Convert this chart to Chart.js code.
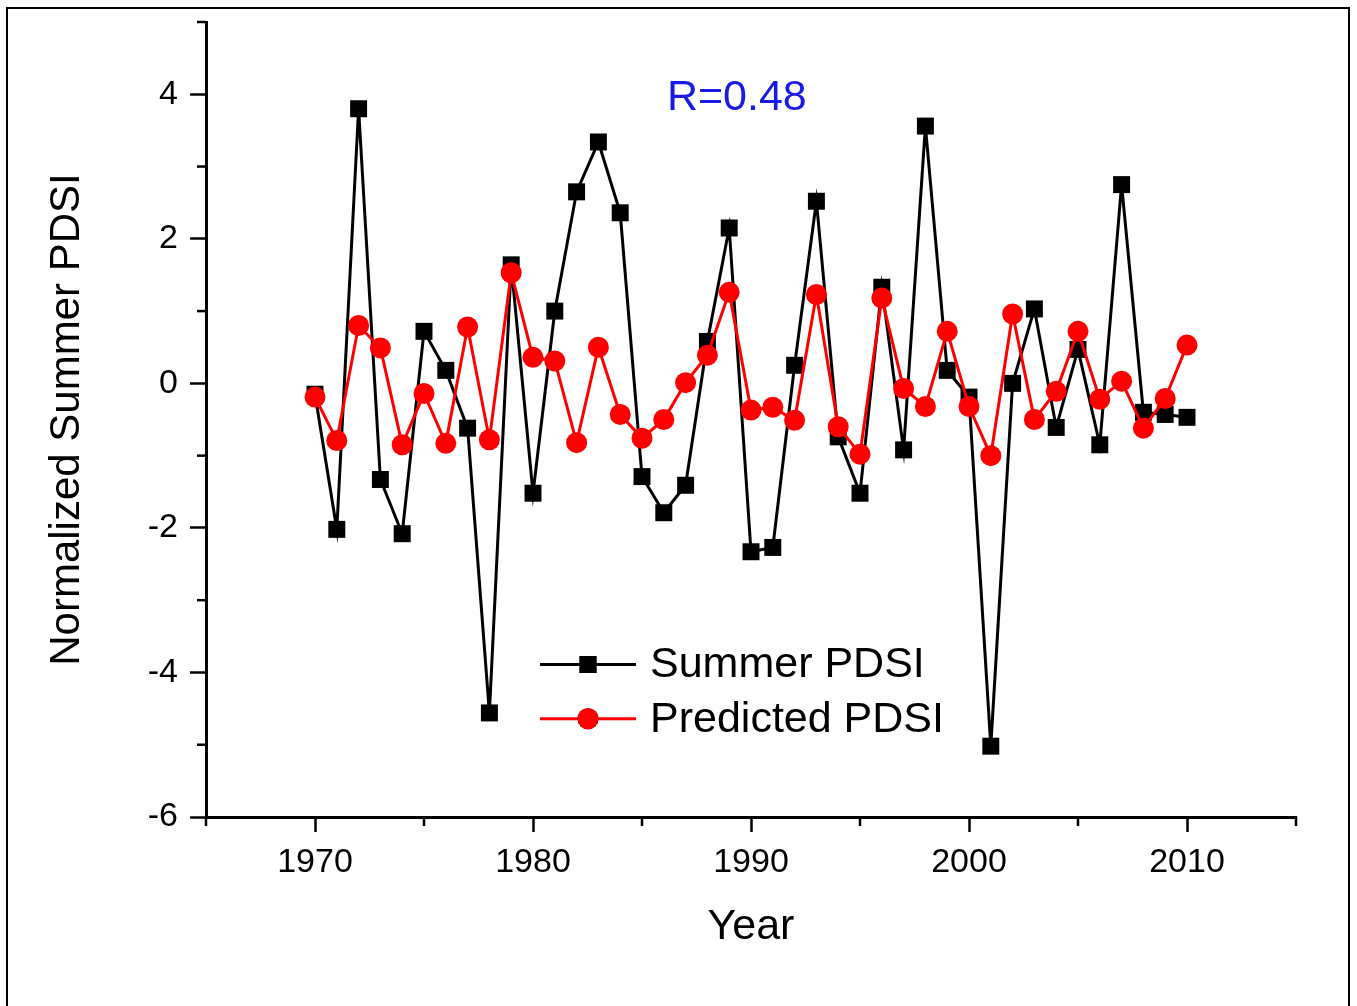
<!DOCTYPE html>
<html>
<head>
<meta charset="utf-8">
<script src="https://cdn.jsdelivr.net/npm/chart.js@4.4.0/dist/chart.umd.min.js"></script>
<style>
  html, body { margin: 0; padding: 0; background: #fff; }
  #wrap { position: relative; width: 1357px; height: 1006px; overflow: hidden; }
  #frame { position: absolute; left: 6px; top: 7px; width: 1344px; height: 1010px; border: 2px solid #000; box-sizing: border-box; pointer-events: none; }
  canvas { position: absolute; left: 0; top: 0; }
</style>
</head>
<body>
<div id="wrap">
  <canvas id="chart" width="1357" height="1006"></canvas>
  <div id="frame"></div>
</div>
<script>
const years = [1970, 1971, 1972, 1973, 1974, 1975, 1976, 1977, 1978, 1979,
               1980, 1981, 1982, 1983, 1984, 1985, 1986, 1987, 1988, 1989,
               1990, 1991, 1992, 1993, 1994, 1995, 1996, 1997, 1998, 1999,
               2000, 2001, 2002, 2003, 2004, 2005, 2006, 2007, 2008, 2009, 2010];

const summerPdsi = [-0.15, -2.02, 3.80, -1.33, -2.08, 0.72, 0.18, -0.62, -4.56, 1.64,
                    -1.52, 1.00, 2.65, 3.34, 2.36, -1.29, -1.79, -1.41, 0.58, 2.15,
                    -2.33, -2.27, 0.25, 2.52, -0.74, -1.52, 1.33, -0.92, 3.56, 0.18,
                    -0.19, -5.02, 0.00, 1.03, -0.61, 0.47, -0.85, 2.75, -0.40, -0.43, -0.47];

const predictedPdsi = [-0.19, -0.79, 0.80, 0.49, -0.85, -0.14, -0.83, 0.78, -0.78, 1.53,
                       0.36, 0.31, -0.82, 0.50, -0.43, -0.76, -0.50, 0.01, 0.39, 1.26,
                       -0.37, -0.33, -0.51, 1.23, -0.60, -0.98, 1.18, -0.07, -0.32, 0.72,
                       -0.32, -1.00, 0.96, -0.50, -0.11, 0.72, -0.22, 0.03, -0.62, -0.21, 0.53];

const xTickLabels = [1970, 1980, 1990, 2000, 2010];
const yTickLabels = [-6, -4, -2, 0, 2, 4];
const seriesNames = ["Summer PDSI", "Predicted PDSI"];
const correlationText = "R=0.48";

const FONT = "'Liberation Sans', Arial, Helvetica, sans-serif";

function toPoints(xs, ys) {
    return xs.map((x, i) => ({ x: x, y: ys[i] }));
}

// minor ticks, legend and the R label
const extras = {
    id: "extras",
    afterDraw(chart) {
        const { ctx, chartArea, scales: { x, y } } = chart;
        ctx.save();
        ctx.strokeStyle = "#000";
        ctx.lineWidth = 2.5;
        x.ticks.forEach(t => {
            if (!xTickLabels.includes(t.value)) {
                const px = x.getPixelForValue(t.value);
                ctx.beginPath();
                ctx.moveTo(px, x.top);
                ctx.lineTo(px, x.top + 9);
                ctx.stroke();
            }
        });
        y.ticks.forEach(t => {
            if (!yTickLabels.includes(t.value)) {
                const py = y.getPixelForValue(t.value);
                ctx.beginPath();
                ctx.moveTo(y.right, py);
                ctx.lineTo(y.right - 9, py);
                ctx.stroke();
            }
        });

        // legend
        const lx = chartArea.left + 334;
        const rows = [y.getPixelForValue(-3.89), y.getPixelForValue(-4.64)];
        chart.data.datasets.forEach((ds, i) => {
            const ly = rows[i];
            ctx.strokeStyle = ds.borderColor;
            ctx.lineWidth = ds.borderWidth;
            ctx.beginPath();
            ctx.moveTo(lx, ly);
            ctx.lineTo(lx + 96, ly);
            ctx.stroke();
            Chart.helpers.drawPoint(ctx, {
                pointStyle: ds.pointStyle,
                radius: ds.pointRadius,
                borderWidth: 0,
                rotation: 0
            }, lx + 48, ly);
            ctx.fillStyle = ds.pointBackgroundColor;
            ctx.fill();
            ctx.fillStyle = "#000";
            ctx.font = "43px " + FONT;
            ctx.textAlign = "left";
            ctx.textBaseline = "middle";
            ctx.fillText(ds.label, lx + 110, ly + 1);
        });

        // correlation label
        ctx.fillStyle = "#1a1ae6";
        ctx.font = "43px " + FONT;
        ctx.textAlign = "center";
        ctx.textBaseline = "middle";
        ctx.fillText(correlationText, x.getPixelForValue(1989.35), y.getPixelForValue(3.94));
        ctx.restore();
    }
};

new Chart(document.getElementById("chart"), {
    type: "line",
    data: {
        datasets: [
            {
                label: seriesNames[0],
                data: toPoints(years, summerPdsi),
                borderColor: "#000",
                backgroundColor: "#000",
                pointBackgroundColor: "#000",
                pointBorderColor: "#000",
                borderWidth: 3,
                pointStyle: "rect",
                pointRadius: 12,
                pointBorderWidth: 0,
                tension: 0,
                order: 2
            },
            {
                label: seriesNames[1],
                data: toPoints(years, predictedPdsi),
                borderColor: "#ff0000",
                backgroundColor: "#ff0000",
                pointBackgroundColor: "#ff0000",
                pointBorderColor: "#ff0000",
                borderWidth: 3,
                pointStyle: "circle",
                pointRadius: 10.5,
                pointBorderWidth: 0,
                tension: 0,
                order: 1
            }
        ]
    },
    options: {
        responsive: false,
        animation: false,
        layout: { padding: { top: 22, right: 61, left: 0, bottom: 0 } },
        plugins: {
            legend: { display: false },
            tooltip: { enabled: false }
        },
        scales: {
            x: {
                type: "linear",
                min: 1965,
                max: 2015,
                afterFit: s => { s.height = 189; s.paddingLeft = 0; s.paddingRight = 0; },
                border: { display: true, color: "#000", width: 3 },
                grid: {
                    drawOnChartArea: false,
                    tickLength: 15,
                    tickWidth: 2.5,
                    tickColor: c => xTickLabels.includes(c.tick.value) ? "#000" : "rgba(0,0,0,0)"
                },
                ticks: {
                    stepSize: 5,
                    autoSkip: false,
                    maxRotation: 0,
                    padding: 10,
                    color: "#000",
                    font: { family: FONT, size: 34 },
                    callback: v => xTickLabels.includes(v) ? String(v) : ""
                },
                title: {
                    display: true,
                    text: "Year",
                    color: "#000",
                    font: { family: FONT, size: 43 },
                    padding: { top: 0, bottom: 53 }
                }
            },
            y: {
                min: -6,
                max: 5,
                afterFit: s => { s.width = 206; s.paddingTop = 0; s.paddingBottom = 0; },
                border: { display: true, color: "#000", width: 3 },
                grid: {
                    drawOnChartArea: false,
                    tickLength: 16,
                    tickWidth: 2.5,
                    tickColor: c => yTickLabels.includes(c.tick.value) ? "#000" : "rgba(0,0,0,0)"
                },
                ticks: {
                    stepSize: 1,
                    autoSkip: false,
                    padding: 12,
                    color: "#000",
                    font: { family: FONT, size: 34 },
                    callback: v => yTickLabels.includes(v) ? String(v) : ""
                },
                title: {
                    display: true,
                    text: "Normalized Summer PDSI",
                    color: "#000",
                    font: { family: FONT, size: 42 },
                    padding: { top: 42, bottom: 0 }
                }
            }
        }
    },
    plugins: [extras]
});
</script>
</body>
</html>
